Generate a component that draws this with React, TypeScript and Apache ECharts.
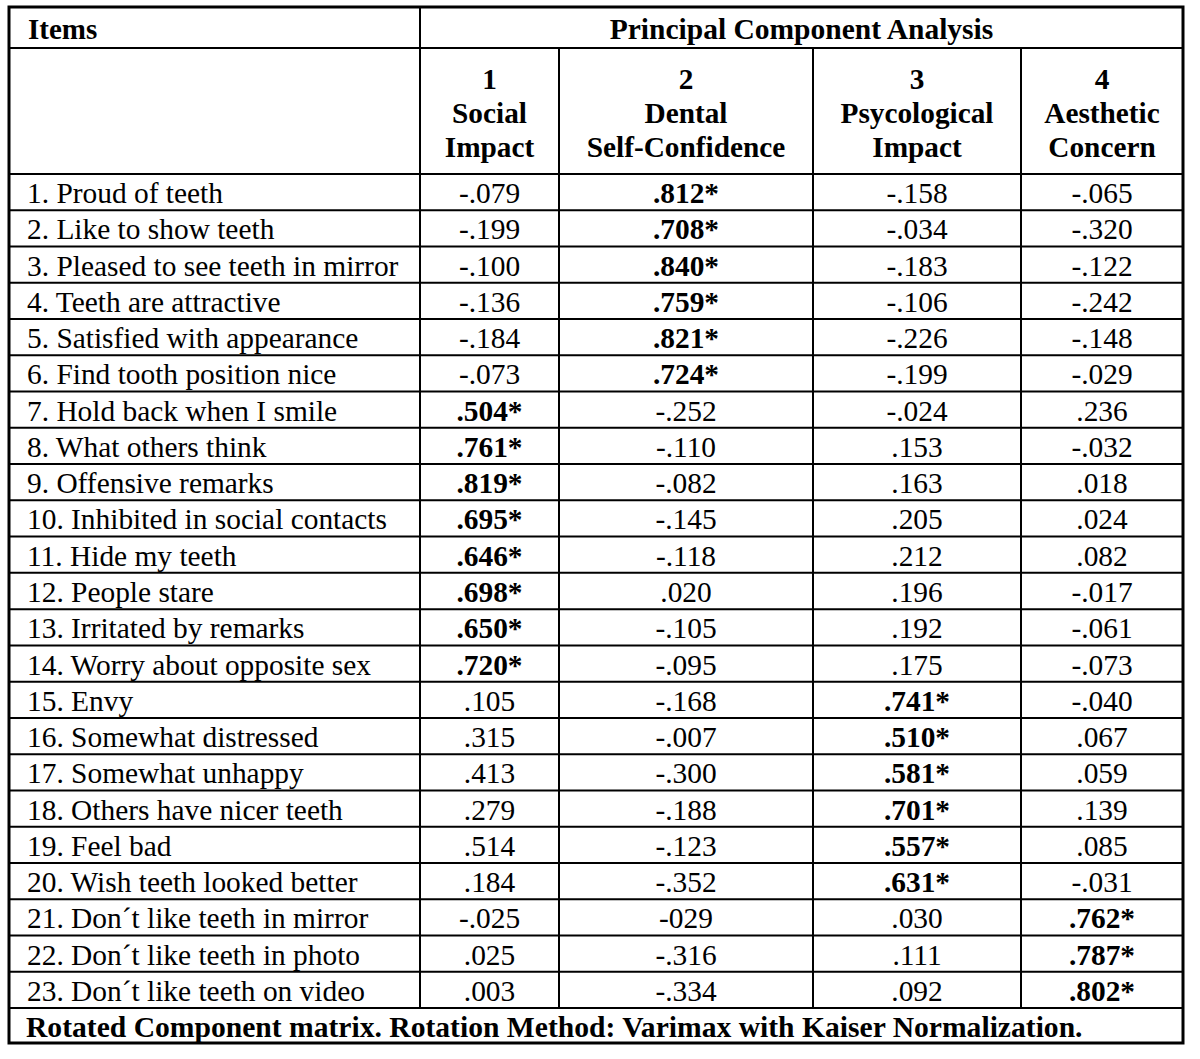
import React, { useEffect, useRef } from "react";
import * as echarts from "echarts";

const items = [
  "1. Proud of teeth",
  "2. Like to show teeth",
  "3. Pleased to see teeth in mirror",
  "4. Teeth are attractive",
  "5. Satisfied with appearance",
  "6. Find tooth position nice",
  "7. Hold back when I smile",
  "8. What others think",
  "9. Offensive remarks",
  "10. Inhibited in social contacts",
  "11. Hide my teeth",
  "12. People stare",
  "13. Irritated by remarks",
  "14. Worry about opposite sex",
  "15. Envy",
  "16. Somewhat distressed",
  "17. Somewhat unhappy",
  "18. Others have nicer teeth",
  "19. Feel bad",
  "20. Wish teeth looked better",
  "21. Don\u00b4t like teeth in mirror",
  "22. Don\u00b4t like teeth in photo",
  "23. Don\u00b4t like teeth on video",
];

const socialImpact = [
  "-.079", "-.199", "-.100", "-.136", "-.184", "-.073", ".504*", ".761*", ".819*", ".695*", ".646*", ".698*",
  ".650*", ".720*", ".105", ".315", ".413", ".279", ".514", ".184", "-.025", ".025", ".003",
];
const dentalSelfConfidence = [
  ".812*", ".708*", ".840*", ".759*", ".821*", ".724*", "-.252", "-.110", "-.082", "-.145", "-.118", ".020",
  "-.105", "-.095", "-.168", "-.007", "-.300", "-.188", "-.123", "-.352", "-029", "-.316", "-.334",
];
const psychologicalImpact = [
  "-.158", "-.034", "-.183", "-.106", "-.226", "-.199", "-.024", ".153", ".163", ".205", ".212", ".196",
  ".192", ".175", ".741*", ".510*", ".581*", ".701*", ".557*", ".631*", ".030", ".111", ".092",
];
const aestheticConcern = [
  "-.065", "-.320", "-.122", "-.242", "-.148", "-.029", ".236", "-.032", ".018", ".024", ".082", "-.017",
  "-.061", "-.073", "-.040", ".067", ".059", ".139", ".085", "-.031", ".762*", ".787*", ".802*",
];

const componentNumbers = ["1", "2", "3", "4"];
const componentNameLine1 = ["Social", "Dental", "Psycological", "Aesthetic"];
const componentNameLine2 = ["Impact", "Self-Confidence", "Impact", "Concern"];

const itemsHeader = "Items";
const groupHeader = "Principal Component Analysis";
const footnote = "Rotated Component matrix. Rotation Method: Varimax with Kaiser Normalization.";

export default function App() {
  const ref = useRef<HTMLDivElement>(null);
  useEffect(() => {
    document.body.style.margin = "0";
    if (!ref.current) return;
    const chart = echarts.init(ref.current, null, { renderer: "svg" });

    const FONT = "'Liberation Serif', 'Times New Roman', serif";
    const L = 9, R = 1183, T = 7, B = 1043;
    const colX = [L, 420, 559, 813, 1021, R];
    const h1 = 48, h2 = 174, footTop = 1008;
    const rowH = (footTop - h2) / items.length;
    const columns = [socialImpact, dentalSelfConfidence, psychologicalImpact, aestheticConcern];

    const els: any[] = [];
    const line = (x1: number, y1: number, x2: number, y2: number, w = 2) =>
      els.push({ type: "line", shape: { x1, y1, x2, y2 }, style: { stroke: "#000", lineWidth: w } });
    const text = (t: string, x: number, y: number, align: string, bold: boolean, size: number) =>
      els.push({
        type: "text",
        x,
        y,
        style: {
          text: t,
          fill: "#000",
          font: `${bold ? "bold " : ""}${size}px ${FONT}`,
          align,
          verticalAlign: "middle",
        },
      });

    // outer border
    els.push({
      type: "rect",
      shape: { x: L, y: T, width: R - L, height: B - T },
      style: { fill: "none", stroke: "#000", lineWidth: 3 },
    });
    // horizontal lines
    line(L, h1, R, h1);
    line(L, h2, R, h2);
    for (let i = 1; i < items.length; i++) line(L, h2 + rowH * i, R, h2 + rowH * i);
    line(L, footTop, R, footTop);
    // vertical lines
    line(colX[1], T, colX[1], footTop);
    for (let c = 2; c <= 4; c++) line(colX[c], h1, colX[c], footTop);

    // headers
    text(itemsHeader, 28, (T + h1) / 2 + 1, "left", true, 29);
    text(groupHeader, (colX[1] + R) / 2, (T + h1) / 2 + 1, "center", true, 29.5);
    for (let c = 0; c < 4; c++) {
      const cx = (colX[c + 1] + colX[c + 2]) / 2;
      text(componentNumbers[c], cx, 79, "center", true, 29.3);
      text(componentNameLine1[c], cx, 113, "center", true, 29.3);
      text(componentNameLine2[c], cx, 147, "center", true, 29.3);
    }

    // rows
    items.forEach((it, i) => {
      const cy = h2 + rowH * (i + 0.5) + 1;
      text(it, 27, cy, "left", false, 29.4);
      columns.forEach((col, c) => {
        const v = col[i];
        const cx = (colX[c + 1] + colX[c + 2]) / 2;
        text(v, cx, cy, "center", v.indexOf("*") >= 0, 29.4);
      });
    });

    text(footnote, 26, (footTop + B) / 2 + 1, "left", true, 29.6);

    chart.setOption({
      animation: false,
      graphic: { elements: els },
    });
    return () => chart.dispose();
  }, []);
  return <div ref={ref} style={{ width: 1200, height: 1059, background: "#fff" }} />;
}
